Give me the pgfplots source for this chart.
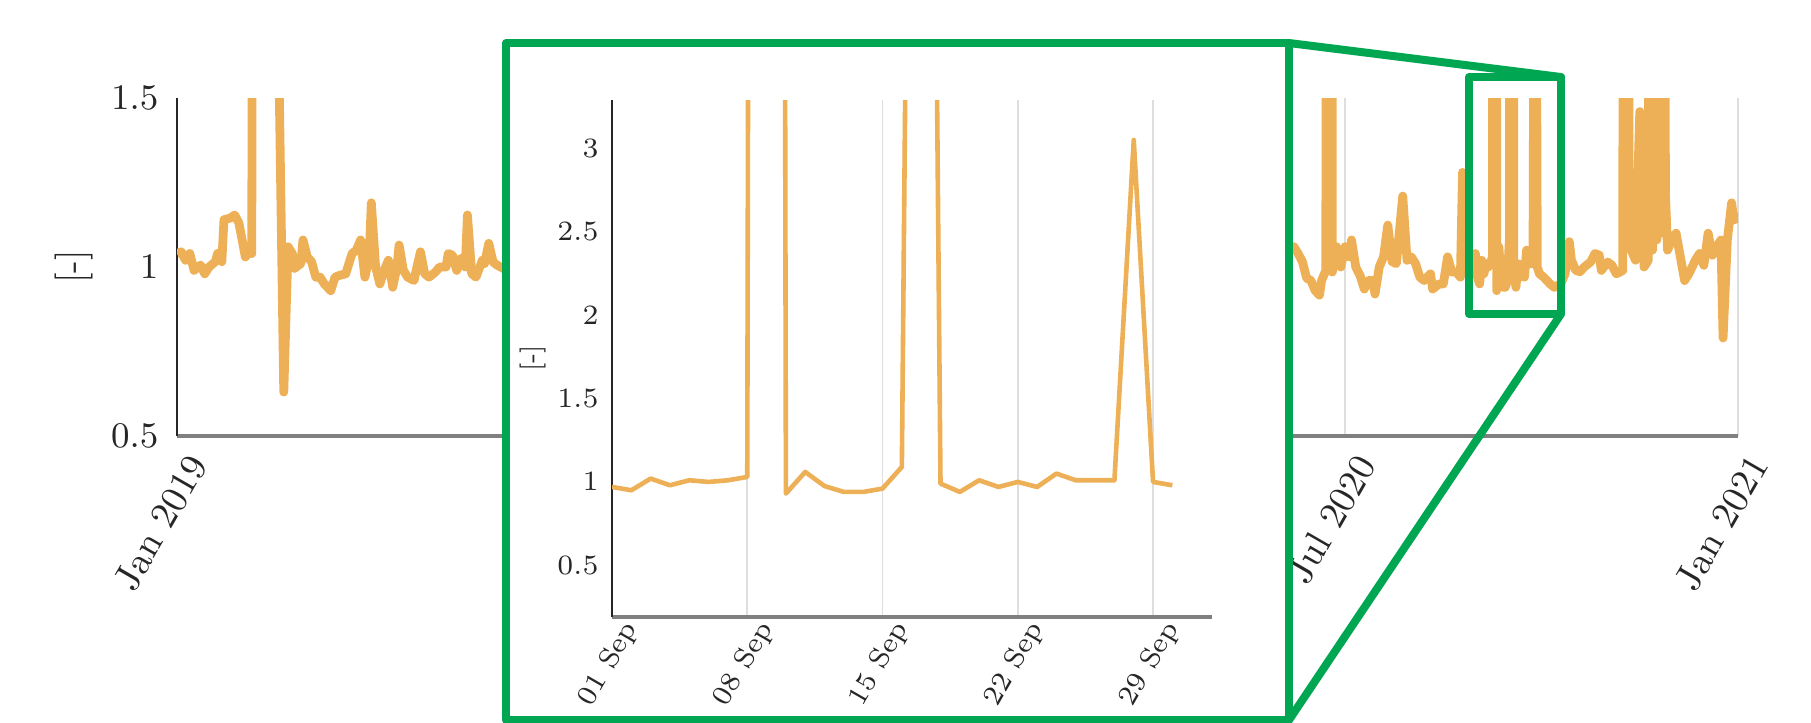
\documentclass[border=0pt]{standalone}
\usepackage{pgfplots}
\pgfplotsset{compat=1.18}
\definecolor{lineor}{RGB}{237,176,86}
\definecolor{zgreen}{RGB}{0,166,81}
\pgfplotstableread{
day val
0 1.04
2 1.045
4 1.02
6 1.04
8 0.99
11 1.006
13 0.98
15 1.0
18 1.016
19 1.04
21 1.016
22 1.14
25 1.145
27 1.154
29 1.13
32 1.03
34 1.045
35 1.04
36 4
40 4
44 4
47 1.9
50 0.63
52 1.06
54 1.04
55 0.996
58 1.01
59 1.08
61 1.03
63 1.016
65 0.97
67 0.97
69 0.95
72 0.93
74 0.97
76 0.975
79 0.98
82 1.04
84 1.05
86 1.08
88 0.97
90 1.03
91 1.19
93 1.0
95 0.95
97 0.99
99 1.02
101 0.94
103 1.0
104 1.065
106 0.99
108 0.97
111 0.96
112 0.99
114 1.045
116 0.98
118 0.97
121 0.985
123 1.0
126 1.0
127 1.04
129 1.035
131 0.99
133 1.025
135 1.0
136 1.154
138 0.98
140 0.97
143 1.02
144 1.01
146 1.07
148 1.015
150 1.005
153 0.995
160 1.0
175 1.01
190 0.99
210 1.0
230 1.01
250 0.99
270 1.0
290 1.0
310 0.99
330 1.01
350 1.0
370 1.0
390 0.99
410 1.01
430 1.0
450 1.0
470 1.0
490 1.01
505 1.03
515 1.05
520 1.06
523 1.06
525 1.04
527 1.016
529 0.967
531 0.96
533 0.93
535 0.917
536 0.96
538 0.99
539 20
540 20
541 0.985
543 1.06
545 1.0
547 1.06
549 1.03
550 1.08
552 1.0
554 0.975
556 0.935
558 0.96
560 0.96
561 0.92
563 1.0
565 1.03
567 1.124
569 1.016
571 1.01
574 1.21
576 1.02
578 1.03
580 1.01
582 0.97
584 0.96
587 0.98
588 0.935
591 0.95
593 0.95
595 1.03
597 0.985
599 0.985
601 0.97
602 1.28
604 1.0
606 1.0
608 1.04
609 0.97
610 0.95
611 1.02
612 0.98
613 1.01
614 1.00
615 1.01
616 1.03
617 60
618 0.93
619 1.06
620 0.975
621 0.94
622 0.94
623 0.96
624 1.09
625 14
626 0.99
627 0.94
628 1.01
629 0.97
630 1.00
631 0.97
632 1.05
633 1.01
634 1.01
635 1.01
636 3.05
637 1.00
638 0.98
640 0.97
643 0.95
645 0.94
648 0.95
650 0.98
652 1.075
653 1.02
655 0.99
657 0.986
659 1.0
662 1.015
664 1.04
666 1.035
667 0.99
670 1.015
672 1.005
674 0.98
676 0.986
677 0.99
678 5
679 5
680 1.1
681 1.05
683 1.02
685 1.46
687 1.0
689 1.02
690 5
691 1.05
692 5
693 1.08
694 5
695 1.1
696 5
697 1.22
698 1.05
700 1.08
702 1.1
704 1.03
706 0.96
708 0.98
711 1.02
713 1.04
715 1.005
717 1.1
719 1.035
722 1.07
723 1.08
724 0.79
726 1.08
728 1.19
729 1.14
730 1.15
731 1.13
}\maindata
\pgfplotstableread{
d val
0 0.97
1 0.95
2 1.02
3 0.98
4 1.01
5 1.00
6 1.01
7 1.03
8 60
9 0.93
10 1.06
11 0.975
12 0.94
13 0.94
14 0.96
15 1.09
16 14
17 0.99
18 0.94
19 1.01
20 0.97
21 1.00
22 0.97
23 1.05
24 1.01
25 1.01
26 1.01
27 3.05
28 1.00
29 0.98
}\insetdata
\begin{document}
\begin{tikzpicture}
\begin{axis}[
  at={(44.25pt,-109pt)}, anchor=south west,
  scale only axis, width=390.25pt, height=84.5pt,
  xmin=0, xmax=731, ymin=0.5, ymax=1.5,
  axis x line*=bottom, axis y line*=left,
  x axis line style={draw=black!50, line width=0.9pt, -},
  y axis line style={draw=black!85, line width=0.5pt, -},
  xtick={0,181,365,547,731},
  xticklabels={Jan 2019, Jul 2019, Jan 2020, Jul 2020, Jan 2021},
  ytick={0.5,1,1.5},
  major tick length=0pt,
  xmajorgrids, grid style={draw=black!13, line width=0.5pt},
  tick label style={font=\fontsize{9.5}{11}\selectfont, black!85},
  yticklabel style={xshift=-1.1pt},
  xticklabel style={xshift=1pt, yshift=0.85pt, rotate=60, anchor=north east},
  ylabel={[-]},
  every axis y label/.style={at={(axis description cs:-0.066,0.5)}, rotate=90, anchor=center, font=\fontsize{9.5}{11}\selectfont, black!85},
]
\addplot[lineor, line width=2.2pt, line join=round] table[x=day, y=val] {\maindata};
\end{axis}
\filldraw[draw=zgreen, fill=white, line width=2pt, line join=round] (126.5pt,-10.75pt) rectangle (322.25pt,-180pt);
\begin{axis}[
  at={(153pt,-154.25pt)}, anchor=south west,
  scale only axis, width=150pt, height=129.25pt,
  xmin=0, xmax=31.05, ymin=0.19, ymax=3.29,
  axis x line*=bottom, axis y line*=left,
  x axis line style={draw=black!50, line width=0.8pt, -},
  y axis line style={draw=black!85, line width=0.4pt, -},
  xtick={0,7,14,21,28},
  xticklabels={01 Sep, 08 Sep, 15 Sep, 22 Sep, 29 Sep},
  ytick={0.5,1,1.5,2,2.5,3},
  major tick length=0pt,
  xmajorgrids, grid style={draw=black!13, line width=0.4pt},
  tick label style={font=\fontsize{7}{8}\selectfont, black!85},
  yticklabel style={xshift=0.2pt},
  xticklabel style={xshift=0.9pt, yshift=4.6pt, rotate=60, anchor=north east},
  ylabel={[-]},
  every axis y label/.style={at={(axis description cs:-0.1317,0.5)}, rotate=90, anchor=center, font=\fontsize{6.5}{7}\selectfont, black!85},
]
\addplot[lineor, line width=1.15pt, line join=round] table[x=d, y=val] {\insetdata};
\end{axis}
\draw[zgreen, line width=2pt, line join=round] (367.25pt,-19.25pt) rectangle (390.25pt,-78.5pt);
\draw[zgreen, line width=2pt, line cap=round] (322.25pt,-10.75pt) -- (390.25pt,-19.25pt);
\draw[zgreen, line width=2pt, line cap=round] (322.25pt,-180pt) -- (390.25pt,-78.5pt);
\pgfresetboundingbox
\useasboundingbox (0pt,0pt) rectangle (452.75pt,-180.5pt);
\end{tikzpicture}
\end{document}
